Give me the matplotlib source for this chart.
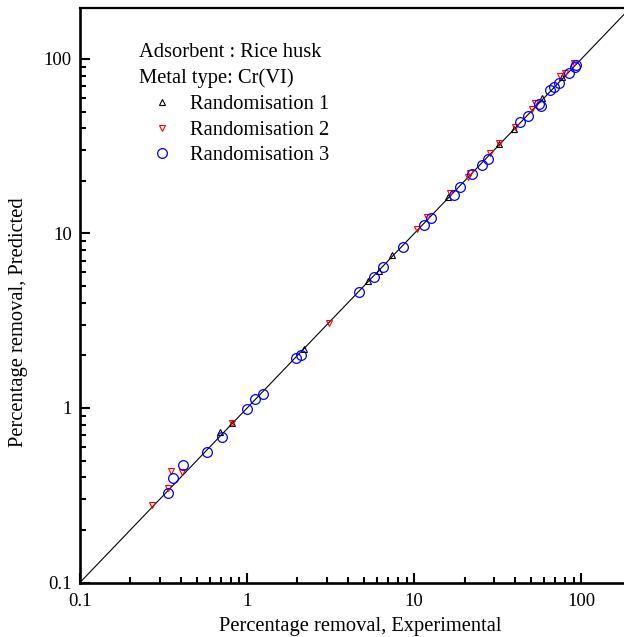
import matplotlib
matplotlib.use("Agg")
import matplotlib.pyplot as plt
from matplotlib.ticker import LogLocator, FuncFormatter, NullFormatter

plt.rcParams['font.family'] = ['Liberation Serif', 'DejaVu Serif']

# Randomisation 1 (black up triangles)
r1_exp = [0.69, 0.81, 2.19, 5.32, 6.17, 7.35, 15.9, 32.0, 39.4, 58.5, 77.0]
r1_pred = [0.73, 0.82, 2.17, 5.37, 6.12, 7.53, 16.1, 32.6, 39.5, 60.0, 78.5]

# Randomisation 2 (red down triangles)
r2_exp = [0.269, 0.338, 0.349, 0.406, 0.809, 3.10, 10.4, 11.9, 16.4, 21.1, 21.6,
          28.5, 32.3, 40.3, 50.5, 53.1, 74.8, 80.2, 89.9]
r2_pred = [0.278, 0.349, 0.437, 0.43, 0.817, 3.06, 10.6, 12.4, 17.0, 21.2, 22.3,
           29.0, 33.1, 40.9, 52.0, 55.7, 80.0, 82.8, 94.4]

# Randomisation 3 (blue circles)
r3_exp = [0.338, 0.362, 0.412, 0.574, 0.707, 0.996, 1.117, 1.24, 1.96, 2.10,
          4.70, 5.78, 6.50, 8.55, 11.4, 12.6, 17.2, 18.7, 22.1, 25.4, 27.6,
          43.2, 48.0, 55.5, 57.5, 65.2, 68.3, 73.1, 84.0, 92.0, 93.3]
r3_pred = [0.325, 0.399, 0.471, 0.557, 0.679, 0.987, 1.126, 1.21, 1.93, 2.00,
           4.64, 5.65, 6.46, 8.40, 11.2, 12.2, 16.6, 18.4, 21.8, 24.7, 26.6,
           43.8, 47.1, 55.2, 53.5, 66.4, 69.4, 72.6, 83.5, 89.6, 92.4]

fig = plt.figure(figsize=(6.24, 6.37), dpi=100)
ax = fig.add_axes([80 / 624, 54.5 / 637, 544 / 624, 574.5 / 637])

# 1:1 line
ax.axline((0.1, 0.1), (100, 100), color='black', lw=0.8, zorder=1)

p1, = ax.plot(r1_exp, r1_pred, ls='none', marker='^', ms=4.5, mfc='none',
              mec='black', mew=0.8, label='Randomisation 1')
p2, = ax.plot(r2_exp, r2_pred, ls='none', marker='v', ms=5, mfc='none',
              mec='red', mew=0.8, label='Randomisation 2')
p3, = ax.plot(r3_exp, r3_pred, ls='none', marker='o', ms=7, mfc='none',
              mec='blue', mew=0.9, label='Randomisation 3')

ax.set_xscale('log')
ax.set_yscale('log')
ax.set_xlim(0.1, 180)
ax.set_ylim(0.1, 196)

for a in (ax.xaxis, ax.yaxis):
    a.set_major_locator(LogLocator(base=10))
    a.set_minor_locator(LogLocator(base=10, subs=range(2, 10)))
    a.set_major_formatter(FuncFormatter(lambda v, p: '%g' % v))
    a.set_minor_formatter(NullFormatter())

ax.tick_params(which='both', direction='in', top=False, right=False,
               labelsize=13.5, width=1.5)
ax.tick_params(which='major', length=7)
ax.tick_params(which='minor', length=4.3)
ax.tick_params(axis='x', pad=7.5)
ax.tick_params(axis='y', pad=6)

ax.spines['right'].set_visible(False)
ax.spines['left'].set_linewidth(1.9)
ax.spines['bottom'].set_linewidth(1.9)
ax.spines['top'].set_linewidth(1.6)

ax.set_xlabel('Percentage removal, Experimental', fontsize=14.8)
ax.set_ylabel('Percentage removal, Predicted', fontsize=14.8)
ax.xaxis.set_label_coords(0.515, -0.06)
ax.yaxis.set_label_coords(-0.095, 0.453)

ax.text(0.1085, 0.9217, 'Adsorbent : Rice husk', transform=ax.transAxes,
        fontsize=14.8, va='center', ha='left')
ax.text(0.1085, 0.878, 'Metal type: Cr(VI)', transform=ax.transAxes,
        fontsize=14.8, va='center', ha='left')

ax.legend(handles=[p1, p2, p3], loc='upper left',
          bbox_to_anchor=(152 / 624, (637 - 95) / 637),
          bbox_transform=fig.transFigure, frameon=False, fontsize=14.8,
          handlelength=1.0, handletextpad=0.85, labelspacing=0.3,
          borderpad=0, borderaxespad=0, markerscale=1)

fig.savefig('out.png', dpi=100)
